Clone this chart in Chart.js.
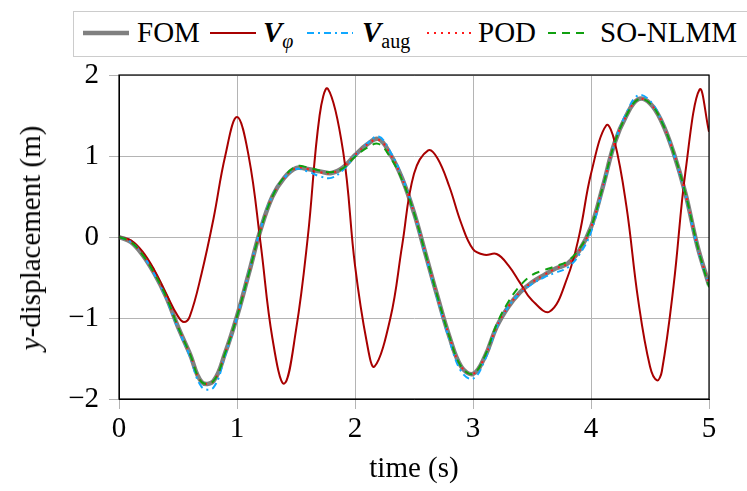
<!DOCTYPE html>
<html>
<head>
<meta charset="utf-8">
<script src="https://cdn.jsdelivr.net/npm/chart.js@4.4.1/dist/chart.umd.min.js"></script>
<style>
  body { margin: 0; background: #fff; }
  #wrap {
    position: relative; width: 747px; height: 491px; overflow: hidden;
    font-family: "Liberation Serif", "Times New Roman", "DejaVu Serif", serif; color: #000;
  }
  #legend {
    position: absolute; left: 73px; top: 11px; width: 720px; height: 44px;
    border: 1px solid #cccccc; background: #fff; font-size: 29px;
  }
  .lg-text { position: absolute; top: 5px; line-height: 30px; white-space: nowrap; }
  .lg-text sub { font-size: 20px; vertical-align: baseline; position: relative; top: 6px; }
  .lg-line { position: absolute; top: 16px; }
  .bv { font-weight: bold; font-style: italic; }
  #ytitle {
    position: absolute; left: 30px; top: 238px; font-size: 29px; line-height: 30px;
    white-space: nowrap; transform: translate(-50%, -50%) rotate(-90deg);
  }
</style>
</head>
<body>
<div id="wrap">
  <canvas id="chart"></canvas>
  <div id="legend"></div>
  <div id="ytitle"><i>y</i>-displacement (m)</div>
</div>
<script>
"use strict";

// sample times for the reduced models and the full-order model
const TIME = [0, 0.1, 0.2, 0.3, 0.4, 0.5, 0.6, 0.7, 0.8, 0.9, 1.0,
  1.1, 1.2, 1.3, 1.4, 1.5, 1.6, 1.7, 1.8, 1.9, 2.0,
  2.1, 2.2, 2.3, 2.4, 2.5, 2.6, 2.7, 2.8, 2.9, 3.0,
  3.1, 3.2, 3.3, 3.4, 3.5, 3.6, 3.7, 3.8, 3.9, 4.0,
  4.1, 4.2, 4.3, 4.4, 4.5, 4.6, 4.7, 4.8, 4.9, 5.0];

const FOM = [0, -0.06, -0.22, -0.45, -0.74, -1.11, -1.44, -1.79, -1.78, -1.43, -0.98,
  -0.45, 0.09, 0.5, 0.73, 0.85, 0.84, 0.81, 0.79, 0.86, 1.01,
  1.14, 1.21, 1.02, 0.72, 0.3, -0.22, -0.74, -1.23, -1.6, -1.69,
  -1.48, -1.11, -0.86, -0.68, -0.56, -0.47, -0.39, -0.33, -0.17, 0.12,
  0.62, 1.16, 1.5, 1.7, 1.65, 1.42, 1.04, 0.54, -0.1, -0.59];

const V_AUG = [0, -0.06, -0.22, -0.46, -0.76, -1.13, -1.47, -1.85, -1.86, -1.46, -0.99,
  -0.44, 0.1, 0.51, 0.73, 0.84, 0.81, 0.75, 0.73, 0.83, 1.0,
  1.15, 1.24, 1.05, 0.74, 0.3, -0.24, -0.77, -1.27, -1.66, -1.75,
  -1.52, -1.12, -0.86, -0.69, -0.58, -0.5, -0.44, -0.38, -0.22, 0.06,
  0.6, 1.16, 1.53, 1.75, 1.68, 1.43, 1.03, 0.52, -0.12, -0.6];

const POD = [0, -0.06, -0.22, -0.45, -0.74, -1.11, -1.44, -1.79, -1.78, -1.43, -0.98,
  -0.45, 0.09, 0.5, 0.73, 0.85, 0.84, 0.8, 0.79, 0.86, 1.01,
  1.14, 1.2, 1.02, 0.72, 0.3, -0.22, -0.74, -1.23, -1.6, -1.69,
  -1.48, -1.11, -0.86, -0.68, -0.56, -0.47, -0.39, -0.33, -0.17, 0.12,
  0.62, 1.16, 1.5, 1.7, 1.65, 1.42, 1.04, 0.54, -0.1, -0.59];

const SO_NLMM = [0, -0.06, -0.22, -0.45, -0.74, -1.11, -1.44, -1.79, -1.78, -1.43, -0.98,
  -0.45, 0.09, 0.5, 0.74, 0.87, 0.86, 0.82, 0.8, 0.85, 0.99,
  1.1, 1.15, 0.98, 0.7, 0.3, -0.22, -0.74, -1.23, -1.6, -1.69,
  -1.47, -1.08, -0.8, -0.6, -0.47, -0.41, -0.36, -0.3, -0.15, 0.12,
  0.62, 1.16, 1.5, 1.7, 1.65, 1.42, 1.04, 0.54, -0.1, -0.62];

// V_phi oscillates faster, so it gets its own sample times around the extrema
const PHI_TIME = [0, 0.1, 0.2, 0.3, 0.4, 0.5, 0.55, 0.6, 0.7, 0.8, 0.9, 1.0,
  1.1, 1.2, 1.3, 1.4, 1.5, 1.6, 1.7, 1.77, 1.9, 2.0,
  2.1, 2.165, 2.3, 2.4, 2.5, 2.62, 2.7, 2.8, 2.9, 3.0,
  3.1, 3.2, 3.3, 3.4, 3.5, 3.65, 3.8, 3.9, 4.0,
  4.13, 4.2, 4.3, 4.4, 4.5, 4.56, 4.6, 4.7, 4.8, 4.92, 5.0];

const V_PHI = [0, -0.04, -0.18, -0.41, -0.7, -0.98, -1.05, -0.98, -0.45, 0.22, 1.0, 1.48,
  0.99, -0.08, -1.25, -1.81, -1.15, 0.0, 1.5, 1.83, 1.05, -0.35,
  -1.3, -1.6, -1.0, -0.1, 0.78, 1.07, 0.97, 0.62, 0.17, -0.15,
  -0.22, -0.21, -0.35, -0.57, -0.78, -0.92, -0.5, 0.02, 0.78,
  1.38, 1.18, 0.38, -0.78, -1.6, -1.77, -1.66, -0.6, 0.8, 1.82, 1.3];

const X_TICKS = [0, 1, 2, 3, 4, 5];
const Y_TICKS = [-2, -1, 0, 1, 2];

const FONT = "'Liberation Serif', 'Times New Roman', 'DejaVu Serif', serif";

const SERIES = [
  { key: "fom", label: "FOM", t: TIME, y: FOM, color: "#808080", width: 4.5, dash: [] },
  { key: "phi", label: "V_phi", t: PHI_TIME, y: V_PHI, color: "#a80000", width: 2, dash: [] },
  { key: "aug", label: "V_aug", t: TIME, y: V_AUG, color: "#10a8ff", width: 2, dash: [7, 4, 2, 4] },
  { key: "pod", label: "POD", t: TIME, y: POD, color: "#ff1a1a", width: 2, dash: [2, 5] },
  { key: "nlmm", label: "SO-NLMM", t: TIME, y: SO_NLMM, color: "#10a010", width: 2, dash: [8, 6] },
];

function toPoints(t, y) {
  return t.map((v, i) => ({ x: v, y: y[i] }));
}

const framePlugin = {
  id: "frame",
  afterDraw(chart) {
    const { left, top, right, bottom } = chart.chartArea;
    const ctx = chart.ctx;
    ctx.save();
    ctx.strokeStyle = "#000";
    ctx.lineWidth = 1.2;
    ctx.strokeRect(left, top, right - left, bottom - top);
    ctx.restore();
  },
};

new Chart(document.getElementById("chart"), {
  type: "line",
  plugins: [framePlugin],
  data: {
    datasets: SERIES.map((s, i) => ({
      label: s.label,
      data: toPoints(s.t, s.y),
      borderColor: s.color,
      borderWidth: s.width,
      borderDash: s.dash,
      pointRadius: 0,
      tension: 0.4,
      fill: false,
      order: SERIES.length - i,
    })),
  },
  options: {
    responsive: true,
    maintainAspectRatio: false,
    animation: false,
    layout: { padding: { left: 0, right: 38, top: 75, bottom: 0 } },
    plugins: { legend: { display: false }, tooltip: { enabled: false } },
    scales: {
      x: {
        type: "linear",
        min: 0,
        max: 5,
        afterFit: (s) => { s.height = 92; },
        afterBuildTicks: (s) => { s.ticks = X_TICKS.map((v) => ({ value: v })); },
        grid: { color: "#b4b4b4", tickColor: "#b4b4b4", tickLength: 10, lineWidth: 1 },
        border: { display: true, color: "#000" },
        ticks: { color: "#000", font: { family: FONT, size: 29 }, padding: 3, maxRotation: 0 },
        title: {
          display: true, text: "time (s)", color: "#000",
          font: { family: FONT, size: 29 }, padding: { top: 0, bottom: 4 },
        },
      },
      y: {
        min: -2,
        max: 2,
        afterFit: (s) => { s.width = 119; },
        afterBuildTicks: (s) => { s.ticks = Y_TICKS.map((v) => ({ value: v })); },
        grid: { color: "#b4b4b4", tickColor: "#b4b4b4", tickLength: 10, lineWidth: 1 },
        border: { display: true, color: "#000" },
        ticks: {
          color: "#000", font: { family: FONT, size: 29 }, padding: 10,
          callback: (v) => (v < 0 ? "\u2212" + Math.abs(v) : String(v)),
        },
        // title is the html #ytitle (italic y needs mixed styles)
        title: { display: false },
      },
    },
  },
});

// legend drawn as html so the bold italic V and subscripts stay real text
const LEGEND_HTML = {
  fom: "FOM",
  phi: '<span class="bv">V</span><sub><i>\u03c6</i></sub>',
  aug: '<span class="bv">V</span><sub>aug</sub>',
  pod: "POD",
  nlmm: "SO-NLMM",
};
const LEGEND_X = { fom: [9, 63], phi: [136, 189], aug: [233, 288], pod: [353, 404], nlmm: [474, 526] };

const legend = document.getElementById("legend");
legend.innerHTML = SERIES.map((s) => {
  const [lx, tx] = LEGEND_X[s.key];
  const w = s.key === "nlmm" ? 40 : 46;
  return `<svg class="lg-line" style="left:${lx}px" width="${w}" height="10">
      <line x1="0" y1="5" x2="${w}" y2="5" stroke="${s.color}" stroke-width="${s.width}"
        stroke-dasharray="${s.dash.length ? s.dash.join(" ") : "none"}"/></svg>
    <span class="lg-text" style="left:${tx}px">${LEGEND_HTML[s.key]}</span>`;
}).join("");
</script>
</body>
</html>
